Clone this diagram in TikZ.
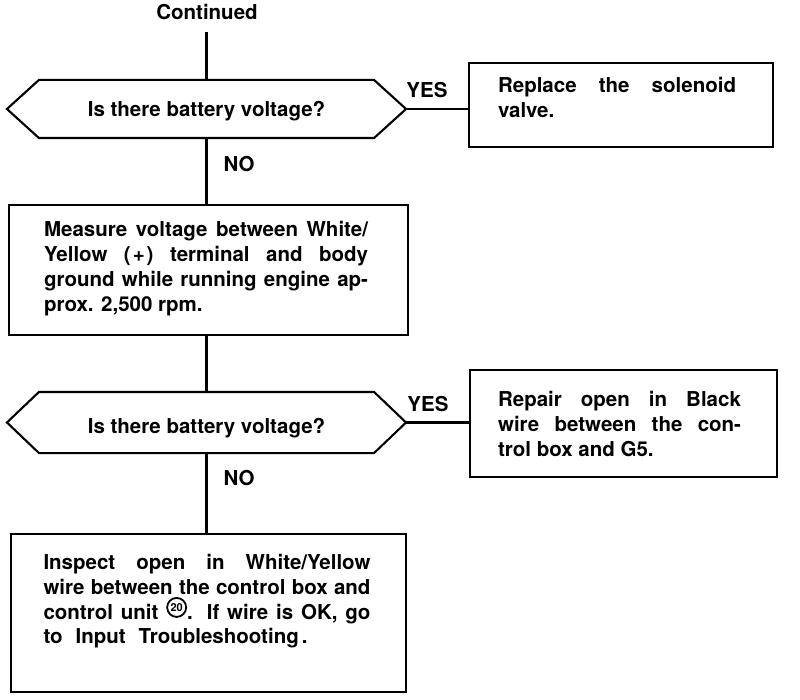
\documentclass[tikz,border=0pt]{standalone}
\usepackage{fontspec}
\setmainfont{TeX Gyre Heros}
\newcommand\jline[2]{\hbox to #1{#2}}
\newcommand\circtw{\tikz[baseline=-0.7ex]\node[circle,draw,line width=1.8pt,inner sep=0pt,minimum size=19pt,font=\fontsize{11}{11}\selectfont\bfseries](c20){20};}
\begin{document}
\begin{tikzpicture}[x=1pt,y=-1pt,line width=2.1pt,
  every node/.style={font=\fontsize{20.5}{24.7}\selectfont\bfseries},
  box/.style={draw,rectangle,inner sep=0pt,anchor=north west},
  qnode/.style={rectangle,inner sep=0pt,minimum width=397pt,text depth=0pt},
  txt/.style={anchor=base west,inner sep=0pt},
  lbl/.style={anchor=base,inner sep=0pt}]
\useasboundingbox (0,0) rectangle (800,700);

% boxes
\node[box,minimum width=304pt,minimum height=84pt] (r1) at (468,62) {};
\node[box,minimum width=399pt,minimum height=130pt] (m) at (8,204) {};
\node[box,minimum width=307pt,minimum height=107pt] (r2) at (469,369) {};
\node[box,minimum width=395pt,minimum height=158pt] (b) at (10,533) {};

% questions
\node[qnode,minimum height=56pt,text height=15.4pt] (q1) at (206.5,109) {Is there battery voltage?};
\node[qnode,minimum height=59pt,text height=21pt] (q2) at (206.5,422.5) {Is there battery voltage?};
\foreach \q in {q1,q2}{
  \draw (\q.west) -- ([xshift=32pt]\q.north west) -- ([xshift=-32pt]\q.north east)
    -- (\q.east) -- ([xshift=-32pt]\q.south east) -- ([xshift=32pt]\q.south west) -- cycle;
}

% box texts
\node[txt] (tr1) at (497,93) {\vtop{\baselineskip=25pt
  \jline{238pt}{Replace the solenoid}
  \hbox{valve.}}};
\node[txt] (tm) at (43,237) {\vtop{\baselineskip=24.7pt
  \jline{324pt}{Measure voltage between White/}
  \jline{324pt}{Yellow (\kern2pt+\kern2pt) terminal and body}
  \jline{324pt}{ground while running engine ap-}
  \hbox{prox. 2,500 rpm.}}};
\node[txt] (tr2) at (497,406.7) {\vtop{\baselineskip=25pt
  \jline{243pt}{Repair open in Black}
  \jline{243pt}{wire between the con-}
  \hbox{trol box and G5.}}};
\node[txt] (tb) at (43.3,569.5) {\vtop{\baselineskip=24.8pt
  \jline{327pt}{Inspect open in White/Yellow}
  \jline{327pt}{wire between the control box and}
  \jline{327pt}{control unit \circtw. If wire is OK, go}
  \jline{264pt}{to Input Troubleshooting\kern3pt.}}};

% labels
\node[lbl] (cont) at (207,20) {Continued};
\node[lbl] (y1) at (427,98) {YES};
\node[lbl] (y2) at (428,411.7) {YES};
\node[lbl] (n1) at (239,172) {NO};
\node[lbl] (n2) at (239,485) {NO};

% connectors
\coordinate (c0) at (206.5,32);
\draw (c0) -- (q1.north);
\draw (q1.south) -- (q1.south |- m.north);
\draw (q1.east) -- (q1.east -| r1.west);
\draw (q2.north |- m.south) -- (q2.north);
\draw (q2.east) -- (q2.east -| r2.west);
\draw (q2.south) -- (q2.south |- b.north);
\end{tikzpicture}
\end{document}
